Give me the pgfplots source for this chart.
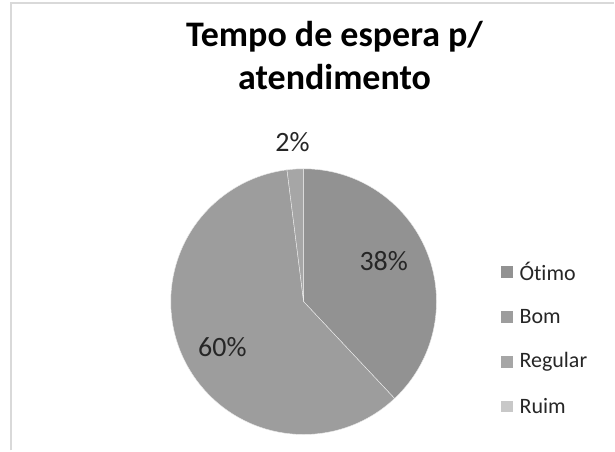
\documentclass[border=0pt]{standalone}
\usepackage{pgfplots}
\pgfplotsset{compat=1.18}
\usepackage{pgfplotstable}
\usepackage{fontspec}
\setmainfont{Carlito}[Ligatures=NoCommon]

\definecolor{c1}{HTML}{929292}
\definecolor{c2}{HTML}{9D9D9D}
\definecolor{c3}{HTML}{A6A6A6}
\definecolor{c4}{HTML}{C8C8C8}
\definecolor{frame}{HTML}{D9D9D9}

% value = percent, lr = label distance from centre (pt), ld = label angle shift
\pgfplotstableread[col sep=comma]{
label,value,color,lr,ld
Ótimo,38,c1,90,5.4
Bom,60,c2,93,3.8
Regular,2,c3,160,0.4
Ruim,0,c4,0,0
}\piedata

\begin{document}
\begin{tikzpicture}
\path[fill=white] (0,0) rectangle (615pt,451pt);
\begin{axis}[x=1pt,y=1pt,xmin=0,xmax=615,ymin=0,ymax=451,
    scale only axis,hide axis,clip=false]
  % chart frame (left and top edges visible)
  \draw[frame, line width=1.5pt] (axis cs:11,0) -- (axis cs:11,448) -- (axis cs:615,448);
  % title
  \node[anchor=base, font=\fontsize{36}{40}\selectfont\bfseries] at (axis cs:335,404) {Tempo de espera p/};
  \node[anchor=base, font=\fontsize{36}{40}\selectfont\bfseries] at (axis cs:335,361) {atendimento};
  \gdef\startang{90}
  \pgfplotsforeachungrouped \i in {0,...,3}{%
    \pgfplotstablegetelem{\i}{value}\of\piedata \let\v\pgfplotsretval
    \pgfplotstablegetelem{\i}{color}\of\piedata \let\c\pgfplotsretval
    \pgfplotstablegetelem{\i}{label}\of\piedata \let\lab\pgfplotsretval
    \pgfplotstablegetelem{\i}{lr}\of\piedata \let\lr\pgfplotsretval
    \pgfplotstablegetelem{\i}{ld}\of\piedata \let\ld\pgfplotsretval
    \pgfmathsetmacro\endang{\startang-3.6*\v}
    \pgfmathsetmacro\midang{(\startang+\endang)/2+\ld}
    \pgfmathsetmacro\lx{304+\lr*cos(\midang)}
    \pgfmathsetmacro\ly{149+\lr*sin(\midang)}
    \ifdim\v pt>0pt
      \edef\cmd{\noexpand\fill[\c, draw=white!85!gray, line width=0.4pt]
        (axis cs:304,149) -- ++(\startang:133pt)
        arc[start angle=\startang, end angle=\endang, radius=133pt] -- cycle;}%
      \cmd
      \edef\cmd{\noexpand\node[font=\noexpand\fontsize{28}{32}\noexpand\selectfont, text=black!85]
        at (axis cs:\lx,\ly) {\v\%};}%
      \cmd
    \fi
    % legend entry
    \pgfmathsetmacro\legy{179-45*\i}
    \edef\cmd{\noexpand\fill[\c] (axis cs:502,\legy) ++(0,-6pt) rectangle ++(12pt,12pt);
      \noexpand\node[anchor=west, inner sep=0pt, font=\noexpand\fontsize{22}{26}\noexpand\selectfont, text=black!85]
        at (axis cs:520,\legy) {\lab};}%
    \cmd
    \xdef\startang{\endang}
  }
\end{axis}
\end{tikzpicture}
\end{document}
